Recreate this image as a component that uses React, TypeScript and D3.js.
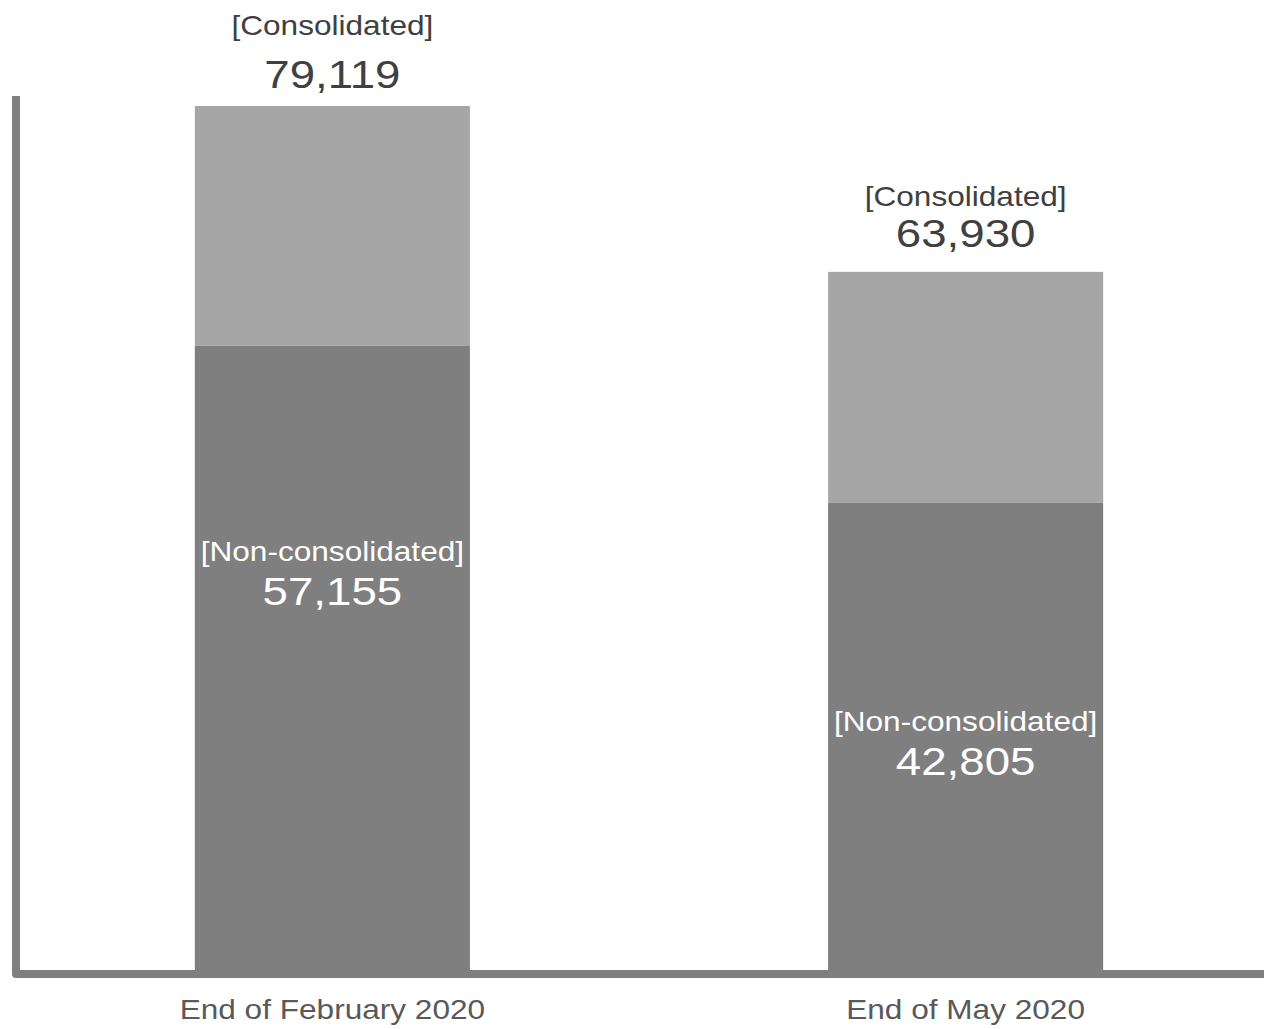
import React from "react";
import * as d3 from "d3";

const categories = ["End of February 2020", "End of May 2020"];
const consolidated = [79119, 63930];
const nonConsolidated = [57155, 42805];
const topLabel = "[Consolidated]";
const innerLabel = "[Non-consolidated]";

const W = 1264;
const H = 1029;
const FONT = "'Liberation Sans', Arial, sans-serif";
const SX = 1.17;
const innerOffsets = [215, 228];
const topOffsets = [[-71, -18], [-66, -25]];

export default function App() {
  const x = d3
    .scaleBand<string>()
    .domain(categories)
    .range([15, 1283])
    .paddingInner(0.5656)
    .paddingOuter(0.284);
  const y = d3.scaleLinear().domain([0, consolidated[0]]).range([970, 106]);
  const fmt = d3.format(",");
  const bw = x.bandwidth();

  const txt = (
    s: string,
    cx: number,
    by: number,
    size: number,
    fill: string,
    key: string
  ) => (
    <text
      key={key}
      transform={`translate(${cx},${by}) scale(${SX},1)`}
      textAnchor="middle"
      fontFamily={FONT}
      fontSize={size}
      fill={fill}
    >
      {s}
    </text>
  );

  return (
    <svg
      width={W}
      height={H}
      style={{ position: "absolute", left: 0, top: 0, background: "#fff" }}
    >
      {categories.map((c, i) => {
        const x0 = x(c)!;
        const cx = x0 + bw / 2;
        const yTop = y(consolidated[i]);
        const yMid = y(nonConsolidated[i]);
        return (
          <g key={c}>
            <rect x={x0} y={yTop} width={bw} height={yMid - yTop} fill="#a6a6a6" />
            <rect x={x0} y={yMid} width={bw} height={y(0) - yMid} fill="#7f7f7f" />
            {txt(topLabel, cx, yTop + topOffsets[i][0], 27, "#404040", "tl")}
            {txt(fmt(consolidated[i]), cx, yTop + topOffsets[i][1], 39, "#404040", "tv")}
            {txt(innerLabel, cx, yMid + innerOffsets[i], 27, "#ffffff", "il")}
            {txt(fmt(nonConsolidated[i]), cx, yMid + innerOffsets[i] + 44, 39, "#ffffff", "iv")}
            {txt(c, cx, 1019, 27, "#595959", "cat")}
          </g>
        );
      })}
      <path
        d={`M16,96 V974 H${W}`}
        fill="none"
        stroke="#7f7f7f"
        strokeWidth={8}
        strokeLinejoin="round"
      />
    </svg>
  );
}
